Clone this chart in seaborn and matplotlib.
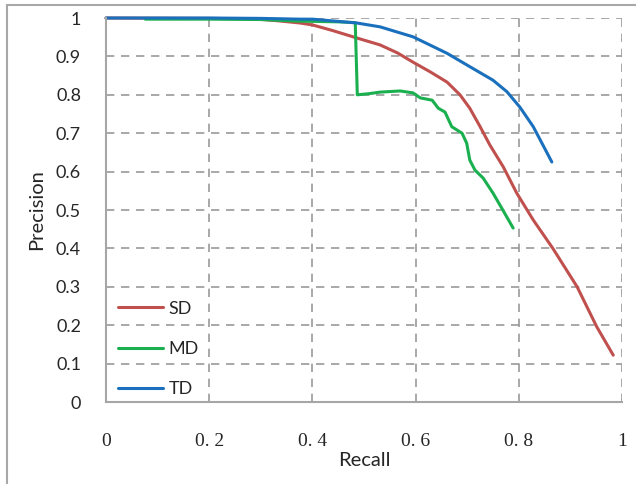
import pandas as pd
import matplotlib.pyplot as plt
import seaborn as sns
from matplotlib.patches import Rectangle

# ---- data ----
sd_recall = [0.0, 0.20, 0.27, 0.304, 0.331, 0.376, 0.40, 0.44, 0.486, 0.531, 0.565,
             0.595, 0.628, 0.661, 0.686, 0.705, 0.725, 0.744, 0.770, 0.796, 0.828,
             0.866, 0.913, 0.951, 0.983]
sd_prec = [1.0, 0.999, 0.998, 0.996, 0.993, 0.987, 0.982, 0.967, 0.948, 0.930, 0.909,
           0.885, 0.86, 0.833, 0.80, 0.765, 0.717, 0.669, 0.612, 0.544, 0.474,
           0.40, 0.30, 0.196, 0.122]

md_recall = [0.076, 0.20, 0.30, 0.37, 0.45, 0.483, 0.487, 0.510, 0.531, 0.570, 0.595,
             0.609, 0.632, 0.644, 0.657, 0.670, 0.690, 0.699, 0.705, 0.715, 0.731,
             0.750, 0.769, 0.789]
md_prec = [0.997, 0.997, 0.996, 0.992, 0.99, 0.988, 0.80, 0.803, 0.807, 0.81, 0.805,
           0.792, 0.786, 0.765, 0.755, 0.717, 0.70, 0.674, 0.63, 0.604, 0.583,
           0.544, 0.50, 0.453]

td_recall = [0.0, 0.20, 0.30, 0.376, 0.40, 0.486, 0.531, 0.595, 0.661, 0.699, 0.75,
             0.777, 0.802, 0.828, 0.864]
td_prec = [1.0, 1.0, 0.999, 0.997, 0.997, 0.987, 0.977, 0.951, 0.908, 0.878, 0.838,
           0.808, 0.768, 0.717, 0.625]

series = ["SD", "MD", "TD"]
colors = {"SD": "#C0504D", "MD": "#1BB04F", "TD": "#1A70BD"}

x_ticks = [0, 0.2, 0.4, 0.6, 0.8, 1.0]
x_labels = ["0", "0. 2", "0. 4", "0. 6", "0. 8", "1"]
y_ticks = [0, 0.1, 0.2, 0.3, 0.4, 0.5, 0.6, 0.7, 0.8, 0.9, 1.0]
y_labels = ["0", "0.1", "0.2", "0.3", "0.4", "0.5", "0.6", "0.7", "0.8", "0.9", "1"]

frames = []
for name, r, p in [("SD", sd_recall, sd_prec), ("MD", md_recall, md_prec), ("TD", td_recall, td_prec)]:
    d = pd.DataFrame({"Recall": r, "Precision": p})
    d["method"] = name
    frames.append(d)
df = pd.concat(frames, ignore_index=True)

# ---- plot ----
sns.set_style("white")
plt.rcParams["font.family"] = ["Lato", "DejaVu Sans"]

fig = plt.figure(figsize=(6.36, 4.84), dpi=100)
ax = fig.add_axes([0.1667, 0.1694, 0.8113, 0.7934])

sns.lineplot(data=df, x="Recall", y="Precision", hue="method", hue_order=series,
             palette=colors, sort=False, estimator=None, units="method",
             linewidth=2.2, ax=ax, clip_on=False)
for line in ax.get_lines():
    line.set_solid_joinstyle("round")
    line.set_solid_capstyle("round")

ax.set_xlim(0, 1)
ax.set_ylim(0, 1)
ax.set_xticks(x_ticks)
ax.set_xticklabels(x_labels, family="Liberation Serif", fontsize=14)
ax.set_yticks(y_ticks)
ax.set_yticklabels(y_labels, fontsize=13)
ax.tick_params(axis="x", length=0, pad=22)
ax.tick_params(axis="y", length=0, pad=18)

ax.grid(True, linestyle=(0, (5, 4)), color="#9A9A9A", linewidth=1.2)
ax.set_axisbelow(True)
for s in ["top", "right"]:
    ax.spines[s].set_visible(False)
for s in ["left", "bottom"]:
    ax.spines[s].set_color("#A6A6A6")
    ax.spines[s].set_linewidth(1.5)

ax.set_xlabel("Recall", fontsize=14.5, labelpad=2)
ax.set_ylabel("Precision", fontsize=14.5, labelpad=8)

leg = ax.legend(loc="lower left", frameon=False, fontsize=13, handlelength=2.5,
                handletextpad=0.3, labelspacing=1.35, bbox_to_anchor=(-0.008, -0.03))
for line in leg.get_lines():
    line.set_linewidth(2.2)

# outer frame of the original figure
fig.patches.append(Rectangle((0.011, -0.05), 1.2, 1.04, transform=fig.transFigure,
                             fill=False, edgecolor="#A8A8A8", linewidth=1.5))

fig.savefig("out.png", dpi=100)
